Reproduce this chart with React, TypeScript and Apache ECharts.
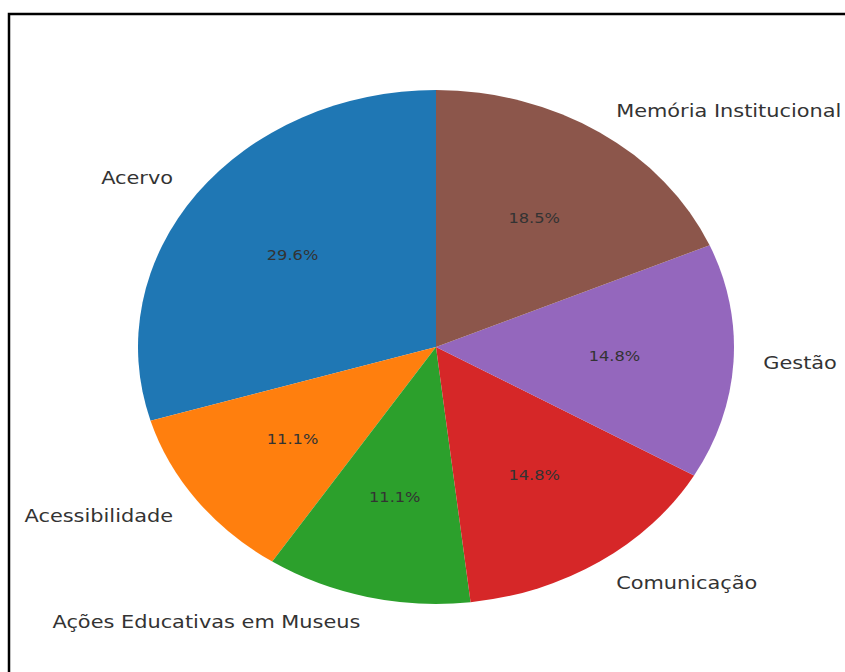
import React, { useEffect, useRef } from "react";
import * as echarts from "echarts";

const categories = [
  "Acervo",
  "Acessibilidade",
  "Ações Educativas em Museus",
  "Comunicação",
  "Gestão",
  "Memória Institucional",
];
const counts = [8, 3, 3, 4, 4, 5];
const colors = ["#1f77b4", "#ff7f0e", "#2ca02c", "#d62728", "#9467bd", "#8c564b"];

const CX = 436;
const CY = 347;
const RX = 298;
const RY = 257;
const START_DEG = 90;
const STRETCH = RX / RY;

export default function App() {
  const ref = useRef<HTMLDivElement>(null);
  useEffect(() => {
    if (!ref.current) return;
    const chart = echarts.init(ref.current, null, { renderer: "svg" });
    const total = counts.reduce((a, b) => a + b, 0);
    const starts: number[] = [];
    let acc = 0;
    counts.forEach((c) => {
      starts.push(acc);
      acc += c;
    });
    const textColor = "#333333";
    const font = "DejaVu Sans";
    chart.setOption({
      animation: false,
      graphic: [
        {
          type: "rect",
          shape: { x: 9, y: 14, width: 900, height: 700 },
          style: { fill: "none", stroke: "#000", lineWidth: 2.5 },
          z: 10,
        },
      ],
      series: [
        {
          type: "custom",
          coordinateSystem: "none",
          data: counts.map((c, i) => ({ value: [c], name: categories[i] })),
          renderItem: (params: any, api: any) => {
            const i = params.dataIndex;
            const v = api.value(0);
            const a1 = ((START_DEG + (starts[i] / total) * 360) * Math.PI) / 180;
            const a2 = ((START_DEG + ((starts[i] + v) / total) * 360) * Math.PI) / 180;
            const mid = (a1 + a2) / 2;
            const lx = CX + 1.1 * RX * Math.cos(mid);
            const ly = CY - 1.1 * RY * Math.sin(mid);
            const px = CX + 0.6 * RX * Math.cos(mid);
            const py = CY - 0.6 * RY * Math.sin(mid);
            const pct = ((v / total) * 100).toFixed(1) + "%";
            return {
              type: "group",
              children: [
                {
                  type: "sector",
                  x: CX,
                  y: CY,
                  scaleY: RY / RX,
                  shape: { cx: 0, cy: 0, r0: 0, r: RX, startAngle: -a2, endAngle: -a1, clockwise: true },
                  style: { fill: colors[i] },
                },
                {
                  type: "text",
                  x: lx,
                  y: ly,
                  scaleX: STRETCH,
                  style: {
                    text: categories[i],
                    x: 0,
                    y: 0,
                    fill: textColor,
                    fontSize: 18,
                    fontFamily: font,
                    align: Math.cos(mid) < 0 ? "right" : "left",
                    verticalAlign: "middle",
                  },
                },
                {
                  type: "text",
                  x: px,
                  y: py,
                  scaleX: STRETCH,
                  style: {
                    text: pct,
                    x: 0,
                    y: 0,
                    fill: textColor,
                    fontSize: 14,
                    fontFamily: font,
                    align: "center",
                    verticalAlign: "middle",
                  },
                },
              ],
            };
          },
        },
      ],
    });
    return () => chart.dispose();
  }, []);
  return (
    <div
      ref={ref}
      style={{ position: "fixed", left: 0, top: 0, width: 845, height: 672, background: "#fff" }}
    />
  );
}
